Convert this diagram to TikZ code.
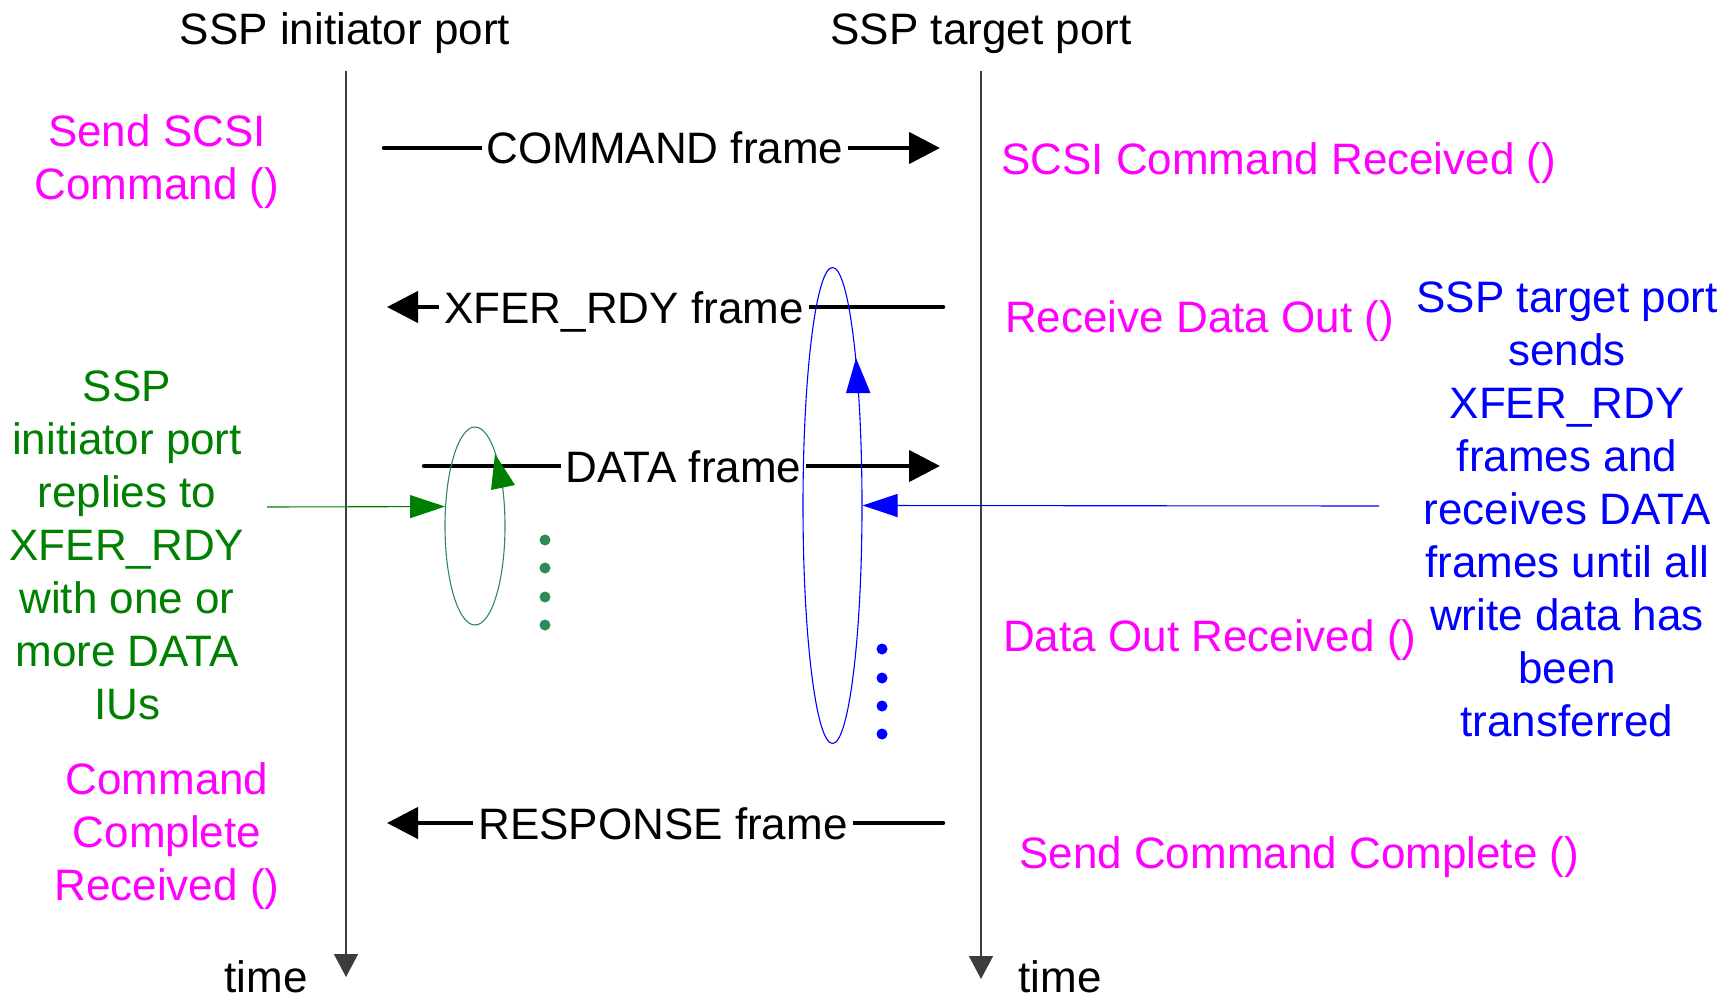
\documentclass[tikz,border=0pt]{standalone}
\usepackage{fontspec}
\setmainfont{Liberation Sans}
\usetikzlibrary{arrows.meta,shapes.geometric}
\definecolor{mag}{RGB}{255,0,255}
\definecolor{dgreen}{RGB}{0,128,0}
\definecolor{sgreen}{RGB}{46,139,87}
\definecolor{pblue}{RGB}{0,0,255}
\definecolor{lifegray}{RGB}{60,60,60}
\begin{document}
\begin{tikzpicture}[x=1pt,y=-1pt,
  txt/.style={font=\fontsize{44}{53}\selectfont, inner sep=0pt, anchor=base},
  msgtext/.style={txt, fill=white, inner xsep=5pt},
  lifeline/.style={draw=lifegray, line width=1.4pt, -{Triangle[length=23pt,width=24pt]}},
  msg/.style={line width=4.5pt, line cap=round, -{Triangle[length=31pt,width=31pt]}},
  loopell/.style={ellipse, inner sep=0pt, line width=1.1pt},
  dotmark/.style={radius=5.5pt}
]
\useasboundingbox (0,0) rectangle (1734,998);

% titles
\node[txt] (ititle) at (345,45) {SSP initiator port};
\node[txt] (ttitle) at (981,45) {SSP target port};

% lifelines
\coordinate (iTop) at (346,71);
\coordinate (iEnd) at (346,977);
\coordinate (tTop) at (981,71);
\coordinate (tEnd) at (981,979);
\draw[lifeline] (iTop) -- (iEnd);
\draw[lifeline] (tTop) -- (tEnd);
\node[txt] (itime) at (266,992) {time};
\node[txt] (ttime) at (1060,992) {time};

% messages
\coordinate (cmdA) at (384,148);
\coordinate (cmdB) at (940,148);
\draw[msg] (cmdA) -- (cmdB);
\node[msgtext] (cmd) at (665,163) {COMMAND frame};

\coordinate (xrA) at (943,307);
\coordinate (xrB) at (387,307);
\draw[msg] (xrA) -- (xrB);
\node[msgtext] (xr) at (624,323) {XFER\_RDY frame};

\coordinate (dA) at (424,466);
\coordinate (dB) at (940,466);
\draw[msg] (dA) -- (dB);
\node[msgtext] (data) at (683.5,482) {DATA frame};

\coordinate (rA) at (943,823);
\coordinate (rB) at (387,823);
\draw[msg] (rA) -- (rB);
\node[msgtext] (resp) at (663,839) {RESPONSE frame};

% loops
\node[loopell, draw=sgreen, minimum width=60pt, minimum height=198pt] (gell) at (475,526) {};
\node[loopell, draw=pblue, minimum width=59pt, minimum height=476pt] (bell) at (832.5,505.5) {};
\fill[dgreen] (495,454) -- (491,490) -- (515,485) -- cycle;
\fill[pblue] (856,358) -- (846,393) -- (870.5,393) -- cycle;

\coordinate (gsrc) at (267,507);
\draw[dgreen, line width=1.1pt, -{Triangle[length=35pt,width=23pt]}] (gsrc) -- (gell.147);
\coordinate (bsrc) at (1379,506);
\draw[pblue, line width=1.1pt, -{Triangle[length=35pt,width=23pt]}] (bsrc) -- (bell.east);

% dots
\foreach \yy in {540,568,597,625} \fill[sgreen] (545,\yy) circle[dotmark];
\foreach \yy in {649,678,706,734} \fill[pblue] (882,\yy) circle[dotmark];

% labels (multi-line nodes: base = baseline of last line)
\node[txt, text=mag, align=center] (sendcmd) at (157,199) {Send SCSI\\Command ()};
\node[txt, text=mag, align=center] (cmdcomp) at (167,900) {Command\\Complete\\Received ()};
\node[txt, text=mag, anchor=base west] (scsirec) at (1001,174) {SCSI Command Received ()};
\node[txt, text=mag, anchor=base west] (rdo) at (1005,332) {Receive Data Out ()};
\node[txt, text=mag, anchor=base west] (dor) at (1003,651) {Data Out Received ()};
\node[txt, text=mag, anchor=base west] (scc) at (1019,868) {Send Command Complete ()};
\node[txt, text=dgreen, align=center] (inote) at (127,719) {SSP\\initiator port\\replies to\\XFER\_RDY\\with one or\\more DATA\\IUs};
\node[txt, text=pblue, align=center] (tnote) at (1567,736) {SSP target port\\sends\\XFER\_RDY\\frames and\\receives DATA\\frames until all\\write data has\\been\\transferred};
\end{tikzpicture}
\end{document}
